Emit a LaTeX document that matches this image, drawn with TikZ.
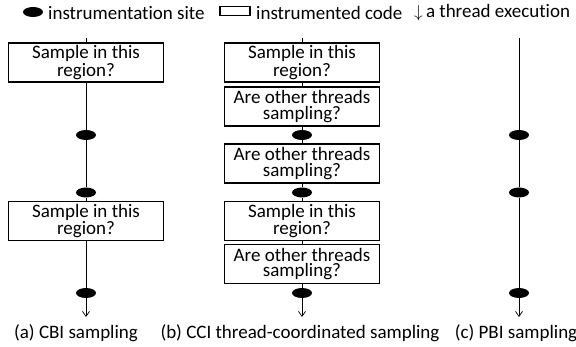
\documentclass[tikz,border=0pt]{standalone}
\usepackage{fontspec}
\setmainfont{Carlito}[Ligatures=NoCommon]
\usetikzlibrary{shapes.geometric,arrows.meta}

\tikzset{
    codebox/.style={draw, line width=1.2pt, minimum width=155pt, minimum height=39pt, inner sep=0pt, align=center, font=\fontsize{19}{15.5}\selectfont},
    site/.style={ellipse, fill=black, minimum width=20pt, minimum height=10pt, inner sep=0pt},
    thread/.style={line width=0.7pt},
    lbl/.style={inner sep=0pt, font=\fontsize{19}{22}\selectfont}
}

\begin{document}
\begin{tikzpicture}[x=1pt,y=-1pt]
    \useasboundingbox (0,0) rectangle (576,347);

    % legend
    \node[site] (key-site) at (33,12) {};
    \node[lbl, anchor=west] (key-site-txt) at (48,13) {instrumentation site};
    \node[draw, line width=1.2pt, minimum width=30pt, minimum height=9pt, inner sep=0pt] (key-code) at (235,11) {};
    \node[lbl, anchor=west] (key-code-txt) at (256,13) {instrumented code};
    \node[lbl, anchor=west] (key-thread-txt) at (414,13) {$\downarrow$\,a thread execution};

    % (a) CBI
    \coordinate (a-top) at (86,38);
    \node[codebox] (a-q1) at (86,62.5) {Sample in this\\region?};
    \node[site] (a-s1) at (86,135) {};
    \node[site] (a-s2) at (86,192.5) {};
    \node[codebox] (a-q2) at (86,221) {Sample in this\\region?};
    \node[site] (a-s3) at (86,293) {};
    \coordinate (a-end) at (86,317);
    \draw[thread] (a-top) -- (a-q1);
    \draw[thread] (a-q1) -- (a-s1);
    \draw[thread] (a-s1) -- (a-s2);
    \draw[thread] (a-s2) -- (a-q2);
    \draw[thread] (a-q2) -- (a-s3);
    \draw[thread, -{Straight Barb[length=5pt,width=7pt]}] (a-s3) -- (a-end);

    % (b) CCI
    \coordinate (b-top) at (302,38);
    \node[codebox] (b-q1) at (302,62.5) {Sample in this\\region?};
    \node[codebox] (b-q2) at (302,106.5) {Are other threads\\sampling?};
    \node[site] (b-s1) at (302,135) {};
    \node[codebox] (b-q3) at (302,163.5) {Are other threads\\sampling?};
    \node[site] (b-s2) at (302,192.5) {};
    \node[codebox] (b-q4) at (302,221) {Sample in this\\region?};
    \node[codebox] (b-q5) at (302,264) {Are other threads\\sampling?};
    \node[site] (b-s3) at (302,293) {};
    \coordinate (b-end) at (302,317);
    \draw[thread] (b-top) -- (b-q1);
    \draw[thread] (b-q1) -- (b-q2);
    \draw[thread] (b-q2) -- (b-s1);
    \draw[thread] (b-s1) -- (b-q3);
    \draw[thread] (b-q3) -- (b-s2);
    \draw[thread] (b-s2) -- (b-q4);
    \draw[thread] (b-q4) -- (b-q5);
    \draw[thread] (b-q5) -- (b-s3);
    \draw[thread, -{Straight Barb[length=5pt,width=7pt]}] (b-s3) -- (b-end);

    % (c) PBI
    \coordinate (c-top) at (519,38);
    \node[site] (c-s1) at (519,135) {};
    \node[site] (c-s2) at (519,192.5) {};
    \node[site] (c-s3) at (519,293) {};
    \coordinate (c-end) at (519,317);
    \draw[thread] (c-top) -- (c-s1);
    \draw[thread] (c-s1) -- (c-s2);
    \draw[thread] (c-s2) -- (c-s3);
    \draw[thread, -{Straight Barb[length=5pt,width=7pt]}] (c-s3) -- (c-end);

    % captions
    \node[lbl] (cap-a) at (76,333) {(a) CBI sampling};
    \node[lbl] (cap-b) at (300,333) {(b) CCI thread-coordinated sampling};
    \node[lbl] (cap-c) at (516,333) {(c) PBI sampling};
\end{tikzpicture}
\end{document}
